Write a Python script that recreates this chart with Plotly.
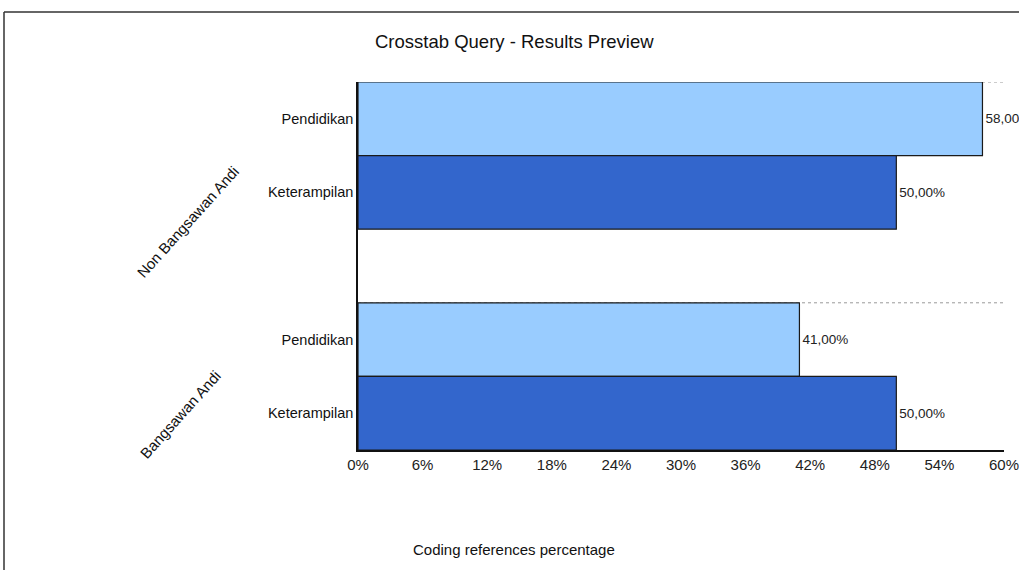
import plotly.graph_objects as go

# Crosstab values (coding references percentage)
groups = ["Non Bangsawan Andi", "Bangsawan Andi"]
categories = ["Pendidikan", "Keterampilan"]
values = {
    "Non Bangsawan Andi": [58.0, 50.0],
    "Bangsawan Andi": [41.0, 50.0],
}
tick_vals = [0, 6, 12, 18, 24, 30, 36, 42, 48, 54, 60]
tick_text = [f"{v}%" for v in tick_vals]

colors = {"Pendidikan": "#99CCFF", "Keterampilan": "#3366CC"}
FONT = "Liberation Sans, Arial, sans-serif"

W, H = 1019, 570
L, R, T, B = 358, 15, 82, 120
PW, PH = W - L - R, H - T - B

# one slot per bar, one empty slot between groups
slot_count = len(groups) * len(categories) + (len(groups) - 1)

def slot_y(gi, ci):
    top = slot_count - 1 - gi * (len(categories) + 1)
    return top - ci

fig = go.Figure()
for ci, cat in enumerate(categories):
    ys, xs, txt = [], [], []
    for gi, g in enumerate(groups):
        v = values[g][ci]
        ys.append(slot_y(gi, ci))
        xs.append(v)
        txt.append(f"{v:.2f}%".replace(".", ","))
    fig.add_trace(go.Bar(
        x=xs, y=ys, orientation="h", name=cat,
        marker=dict(color=colors[cat], line=dict(color="#1a1a1a", width=1.2)),
        width=1.0, text=txt, textposition="outside", cliponaxis=False,
        textfont=dict(family=FONT, size=13.5, color="#222222"),
        hoverinfo="skip",
    ))

y_ticks, y_text = [], []
for gi, g in enumerate(groups):
    for ci, cat in enumerate(categories):
        y_ticks.append(slot_y(gi, ci))
        y_text.append(cat)

shapes = []
# dotted guide at the top of each group
for gi, g in enumerate(groups):
    yt = slot_y(gi, 0) + 0.5
    shapes.append(dict(type="line", xref="x", yref="y", x0=0, x1=60, y0=yt, y1=yt,
                       line=dict(color="#999999", width=1, dash="dot"), layer="below"))

def px_x(p):
    return (p - L) / PW

def px_y(p):
    return (H - B - p) / PH

# outer frame
shapes.append(dict(type="line", xref="paper", yref="paper",
                   x0=px_x(4), x1=px_x(1030), y0=px_y(12), y1=px_y(12),
                   line=dict(color="#333333", width=1.5)))
shapes.append(dict(type="line", xref="paper", yref="paper",
                   x0=px_x(4), x1=px_x(4), y0=px_y(12), y1=px_y(575),
                   line=dict(color="#333333", width=1.5)))

annotations = []
group_label_pos = {"Non Bangsawan Andi": (187, 222), "Bangsawan Andi": (180, 414)}
for g in groups:
    gx, gy = group_label_pos[g]
    annotations.append(dict(text=g, xref="paper", yref="paper", x=px_x(gx), y=px_y(gy),
                            xanchor="center", yanchor="middle", showarrow=False,
                            textangle=-48, font=dict(family=FONT, size=15, color="#111111")))
annotations.append(dict(text="Crosstab Query - Results Preview", xref="paper", yref="paper",
                        x=px_x(514), y=px_y(42), xanchor="center", yanchor="middle",
                        showarrow=False, font=dict(family=FONT, size=18.5, color="#111111")))
annotations.append(dict(text="Coding references percentage", xref="paper", yref="paper",
                        x=px_x(514), y=px_y(549), xanchor="center", yanchor="middle",
                        showarrow=False, font=dict(family=FONT, size=15, color="#111111")))

fig.update_layout(
    width=W, height=H,
    margin=dict(l=L, r=R, t=T, b=B),
    paper_bgcolor="white", plot_bgcolor="white",
    showlegend=False, barmode="overlay",
    shapes=shapes, annotations=annotations,
    xaxis=dict(range=[0, 60], tickvals=tick_vals, ticktext=tick_text,
               showgrid=False, zeroline=False, showline=True, linecolor="#111111",
               linewidth=1.5, ticks="", ticklen=0, automargin=False,
               ticklabeloverflow="allow",
               tickfont=dict(family=FONT, size=15, color="#222222")),
    yaxis=dict(range=[-0.5, slot_count - 0.5], tickvals=y_ticks, ticktext=y_text,
               showgrid=False, zeroline=False, showline=True, linecolor="#111111",
               linewidth=1.5, ticks="", automargin=False,
               tickfont=dict(family=FONT, size=14.5, color="#111111")),
)

fig.write_html("out.html")
